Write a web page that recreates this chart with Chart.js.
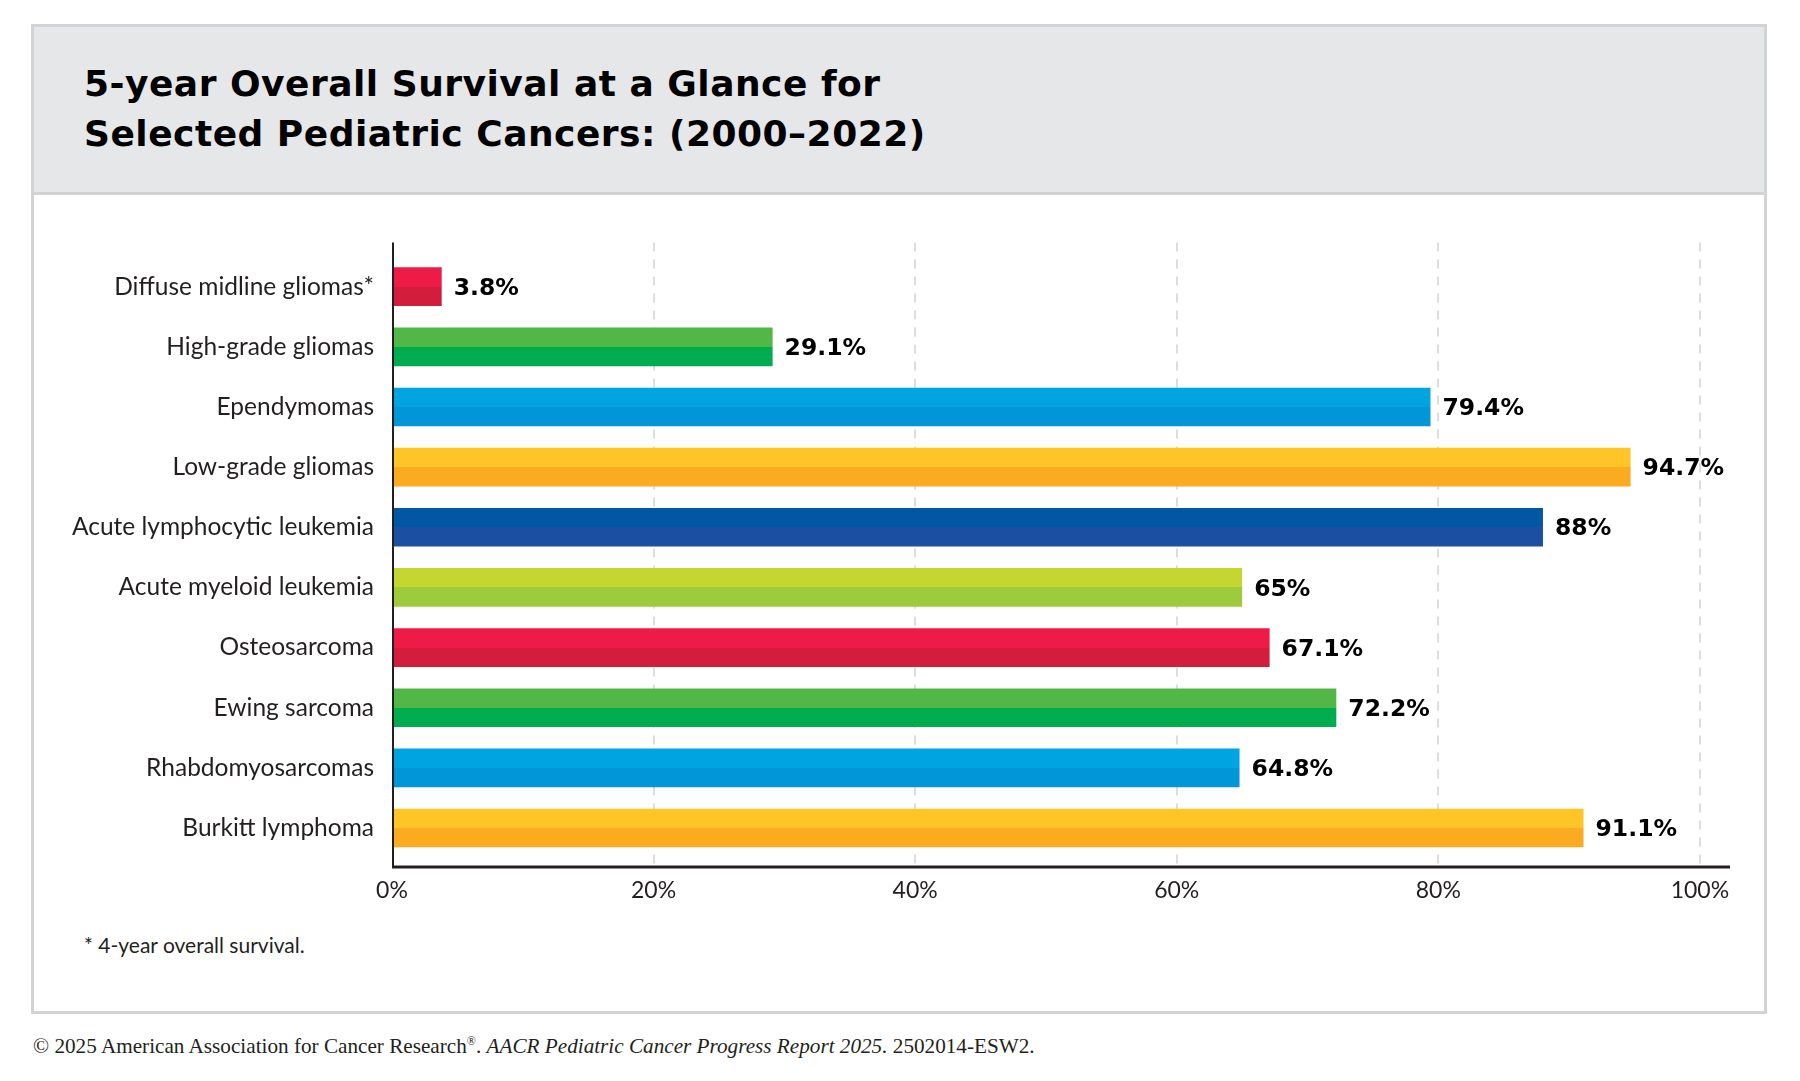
<!DOCTYPE html>
<html>
<head>
<meta charset="utf-8">
<script src="https://cdn.jsdelivr.net/npm/chart.js@4.4.1/dist/chart.umd.min.js"></script>
<style>
  html, body { margin: 0; padding: 0; background: #fff; }
  body { width: 1800px; height: 1081px; position: relative; overflow: hidden; }
  .panel { position: absolute; left: 31px; top: 24px; width: 1736px; height: 990px;
           box-sizing: border-box; border: 3px solid #d1d3d4; background: #fff; }
  .header { position: absolute; left: 31px; top: 24px; width: 1736px; height: 171px;
            box-sizing: border-box; border: 3px solid #d1d3d4; background: #e6e7e8; }
  .title { position: absolute; left: 84px; top: 59px; font: bold 36px/50px "DejaVu Sans", sans-serif;
           color: #000; letter-spacing: 0.5px; }
  .note { position: absolute; left: 84px; top: 934px; font: 21px/1 Lato, sans-serif; color: #231f20; }
  .credit { position: absolute; left: 33px; top: 1035px; font: 21.2px/1 "Liberation Serif", serif; color: #231f20; }
  .credit sup { font-size: 12px; }
  canvas { position: absolute; left: 0; top: 0; }
</style>
</head>
<body>
<div class="panel"></div>
<div class="header"></div>
<div class="title">5-year Overall Survival at a Glance for<br>Selected Pediatric Cancers: (2000–2022)</div>
<div class="note">* 4-year overall survival.</div>
<div class="credit">© 2025 American Association for Cancer Research<sup>®</sup>. <i>AACR Pediatric Cancer Progress Report 2025.</i> 2502014-ESW2.</div>
<canvas id="chart" width="1800" height="1081"></canvas>
<script>
// Data
const categories = [
  'Diffuse midline gliomas*', 'High-grade gliomas', 'Ependymomas', 'Low-grade gliomas',
  'Acute lymphocytic leukemia', 'Acute myeloid leukemia', 'Osteosarcoma', 'Ewing sarcoma',
  'Rhabdomyosarcomas', 'Burkitt lymphoma'
];
const survival = [3.8, 29.1, 79.4, 94.7, 88, 65, 67.1, 72.2, 64.8, 91.1];
const xTicks = [0, 20, 40, 60, 80, 100];

// two-tone bars: lighter top half, darker bottom half
const topColors = ['#ee1b47', '#51b848', '#00a4e1', '#ffc526', '#0058a4', '#c4d62f', '#ee1b47', '#51b848', '#00a4e1', '#ffc526'];
const bottomColors = ['#d31d3d', '#00ad4e', '#0096d7', '#fbab20', '#1a4fa1', '#9ecb3c', '#d31d3d', '#00ad4e', '#0096d7', '#fbab20'];

const ink = '#231f20';

function twoTone(ctx) {
  const i = ctx.dataIndex;
  const y = ctx.chart.scales.y;
  if (ctx.type !== 'data' || !y) return bottomColors[i];
  const c = y.getPixelForValue(i);
  if (!isFinite(c)) return bottomColors[i];
  const g = ctx.chart.ctx.createLinearGradient(0, c - 1, 0, c + 1);
  g.addColorStop(0, topColors[i]);
  g.addColorStop(0.5, topColors[i]);
  g.addColorStop(0.5, bottomColors[i]);
  g.addColorStop(1, bottomColors[i]);
  return g;
}

// dashed grid + axis lines + value labels
const decor = {
  id: 'decor',
  beforeDatasetsDraw(chart) {
    const { ctx, chartArea, scales: { x } } = chart;
    ctx.save();
    ctx.strokeStyle = '#dcdddd';
    ctx.lineWidth = 2;
    ctx.setLineDash([9, 8]);
    x.ticks.forEach(t => {
      if (t.value === 0) return;
      const px = Math.round(x.getPixelForValue(t.value));
      ctx.beginPath();
      ctx.moveTo(px, chartArea.top - 14);
      ctx.lineTo(px, chartArea.bottom + 8);
      ctx.stroke();
    });
    ctx.restore();
  },
  afterDatasetsDraw(chart) {
    const { ctx, chartArea, scales: { x } } = chart;
    const x0 = x.getPixelForValue(0);
    ctx.save();
    ctx.strokeStyle = ink;
    ctx.lineWidth = 2;
    ctx.beginPath();
    ctx.moveTo(x0 + 1, chartArea.top - 14);
    ctx.lineTo(x0 + 1, chartArea.bottom + 10);
    ctx.stroke();
    ctx.lineWidth = 3;
    ctx.beginPath();
    ctx.moveTo(x0, chartArea.bottom + 9);
    ctx.lineTo(chartArea.right, chartArea.bottom + 9);
    ctx.stroke();

    ctx.fillStyle = '#000';
    ctx.font = 'bold 23.5px "DejaVu Sans", sans-serif';
    ctx.textBaseline = 'middle';
    ctx.textAlign = 'left';
    chart.getDatasetMeta(0).data.forEach((bar, i) => {
      ctx.fillText(survival[i] + '%', bar.x + 12, bar.y + 2);
    });
    ctx.restore();
  }
};

new Chart(document.getElementById('chart'), {
  type: 'bar',
  data: {
    labels: categories,
    datasets: [{
      data: survival,
      backgroundColor: twoTone,
      barPercentage: 0.643,
      categoryPercentage: 1,
      borderWidth: 0
    }]
  },
  options: {
    indexAxis: 'y',
    responsive: false,
    animation: false,
    events: [],
    layout: { padding: { left: 0, top: 256.6, right: 70, bottom: 172.9 } },
    plugins: { legend: { display: false }, tooltip: { enabled: false } },
    scales: {
      x: {
        min: 0,
        max: 102.3,
        afterFit: s => { s.height = 50; },
        afterBuildTicks: s => { s.ticks = xTicks.map(v => ({ value: v })); },
        grid: { display: false, drawTicks: false },
        border: { display: false },
        ticks: {
          includeBounds: false,
          padding: 19,
          color: ink,
          font: { family: 'Lato', size: 23 },
          callback: v => v + '%'
        }
      },
      y: {
        afterFit: s => { s.width = 392; },
        grid: { display: false, drawTicks: false },
        border: { display: false },
        ticks: {
          padding: 18,
          color: ink,
          font: { family: 'Lato', size: 24.5 }
        }
      }
    }
  },
  plugins: [decor]
});
</script>
</body>
</html>
